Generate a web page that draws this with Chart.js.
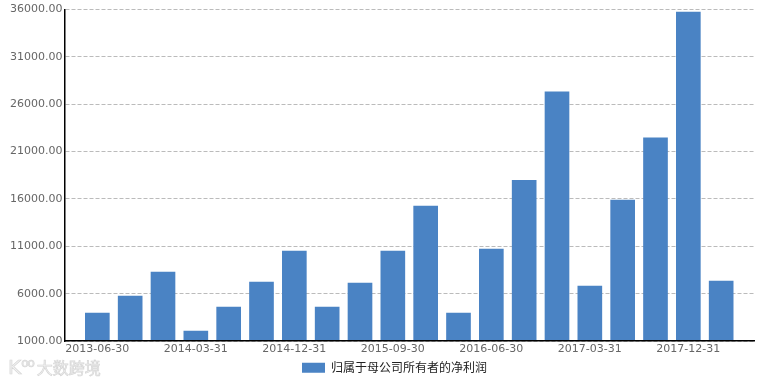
<!DOCTYPE html>
<html>
<head>
<meta charset="utf-8">
<script src="https://cdn.jsdelivr.net/npm/chart.js@4/dist/chart.umd.min.js"></script>
<style>
  body { margin: 0; background: #fff; }
  #wrap { position: relative; width: 770px; height: 381px; overflow: hidden; }
  #mark { position: absolute; left: 8px; top: 357px; color: #f2f2f2; font-family: "Noto Sans CJK SC"; font-size: 16px; line-height: 20px; white-space: nowrap; -webkit-text-stroke: 0.7px #d6d6d6; }
  #mark .logo { font-family: "DejaVu Sans"; font-size: 20px; }
  #mark sup { font-family: "DejaVu Sans"; font-size: 12px; vertical-align: 7px; line-height: 0; margin-right: 3px; letter-spacing: -1px; }
</style>
</head>
<body>
<div id="wrap">
  <canvas id="profitChart" width="770" height="381"></canvas>
  <div id="mark"><span class="logo">K</span><sup>oo</sup>大数跨境</div>
</div>
<script>
const periods = [
  '2013-06-30', '2013-09-30', '2013-12-31', '2014-03-31', '2014-06-30',
  '2014-09-30', '2014-12-31', '2015-03-31', '2015-06-30', '2015-09-30',
  '2015-12-31', '2016-03-31', '2016-06-30', '2016-09-30', '2016-12-31',
  '2017-03-31', '2017-06-30', '2017-09-30', '2017-12-31', '2018-03-31'
];
const netProfit = [
  3940, 5737, 8275, 2036, 4574,
  7217, 10495, 4574, 7112, 10495,
  15254, 3940, 10707, 17971, 27308,
  6795, 15888, 22444, 35736, 7323
];
const seriesName = '归属于母公司所有者的净利润';

// one empty slot each side, the bars sit a full step in from the axis
const labels = ['', ...periods, ''];
const values = [null, ...netProfit, null];

// legend is centred under the bars + axis labels, not the whole canvas
const legendShift = {
  id: 'legendShift',
  afterLayout(chart) {
    chart.legend.left = 36;
    chart.legend.right = 753;
    chart.legend.top = 358.8;
  }
};

const ctx = document.getElementById('profitChart').getContext('2d');
new Chart(ctx, {
  type: 'bar',
  plugins: [legendShift],
  data: {
    labels: labels,
    datasets: [{
      label: seriesName,
      data: values,
      backgroundColor: '#4a83c4',
      borderWidth: 0,
      barThickness: 24
    }]
  },
  options: {
    responsive: false,
    animation: false,
    layout: { padding: { left: 0, right: 16, top: 9.5, bottom: 0 } },
    plugins: {
      tooltip: { enabled: false },
      legend: {
        position: 'bottom',
        labels: {
          boxWidth: 23,
          boxHeight: 10,
          padding: 3,
          color: '#222',
          font: { family: '"Noto Sans CJK SC"', size: 12 }
        }
      }
    },
    scales: {
      x: {
        offset: false,
        afterFit: (scale) => { scale.height = 15; },
        grid: { display: false, drawTicks: false },
        border: { color: '#000', width: 1.5, z: 1 },
        ticks: {
          autoSkip: false,
          maxRotation: 0,
          padding: 2,
          color: '#666',
          font: { family: '"DejaVu Sans"', size: 11 },
          callback: function (value, index) {
            return (index - 1) % 3 === 0 ? labels[index] : '';
          }
        }
      },
      y: {
        min: 1000,
        max: 36000,
        afterFit: (scale) => { scale.width = 64.5; },
        grid: { color: '#bbb', lineWidth: 1, drawTicks: false },
        border: { color: '#000', width: 1.5, dash: [4, 2], z: 1 },
        ticks: {
          stepSize: 5000,
          padding: 2,
          color: '#666',
          font: { family: '"DejaVu Sans"', size: 11 },
          callback: (value) => value.toFixed(2)
        }
      }
    }
  }
});
</script>
</body>
</html>
